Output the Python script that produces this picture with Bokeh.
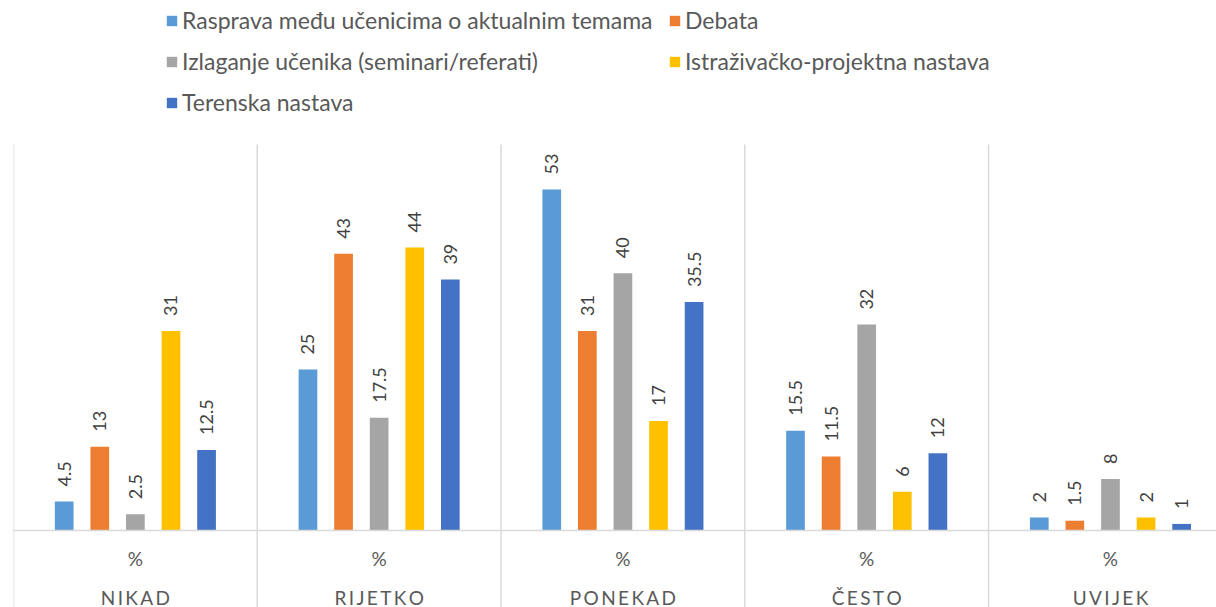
import math
from bokeh.plotting import figure
from bokeh.models import (Range1d, FixedTicker, LinearAxis, Legend, LegendItem,
                          ColumnDataSource)
from bokeh.transform import dodge
from bokeh.core.properties import value
from bokeh.embed import file_html
from bokeh.resources import INLINE

# ---- data ----
categories = ["NIKAD", "RIJETKO", "PONEKAD", "ČESTO", "UVIJEK"]
sub_label = "%"
series_names = [
    "Rasprava među učenicima o aktualnim temama",
    "Debata",
    "Izlaganje učenika (seminari/referati)",
    "Istraživačko-projektna nastava",
    "Terenska nastava",
]
rasprava = [4.5, 25, 53, 15.5, 2]
debata = [13, 43, 31, 11.5, 1.5]
izlaganje = [2.5, 17.5, 40, 32, 8]
istrazivacko = [31, 44, 17, 6, 2]
terenska = [12.5, 39, 35.5, 12, 1]
colors = ["#5B9BD5", "#ED7D31", "#A5A5A5", "#FFC000", "#4472C4"]

y_min, y_max = -12, 60          # value axis extent (plot area incl. category band)
series_values = [rasprava, debata, izlaganje, istrazivacko, terenska]
idx = list(range(len(categories)))
bounds = [i - 0.5 for i in range(len(categories) + 1)]

FONT = "Lato"
GRID = "#D9D9D9"

p = figure(width=1216, height=607,
           x_range=Range1d(-0.5, 4.435), y_range=Range1d(y_min, 82.4),
           output_backend="svg", toolbar_location=None,
           x_axis_location=None, y_axis_location=None,
           min_border_left=13, min_border_right=0, min_border_top=0,
           min_border_bottom=0)
p.outline_line_color = None
for g in p.grid:
    g.visible = False

# category separators
sep = ColumnDataSource({"b": bounds})
p.segment(x0="b", y0=y_min, x1="b", y1=y_max, source=sep,
          line_color=GRID, line_width=1.5)

data = {"idx": idx}
for k, vals in enumerate(series_values):
    data[f"s{k}"] = vals
    data[f"l{k}"] = [f"{v:g}" for v in vals]
src = ColumnDataSource(data)

step = 0.146
bar_w = 0.0767
items = []
for k, (name, col) in enumerate(zip(series_names, colors)):
    off = (k - 2) * step
    r = p.vbar(x=dodge("idx", off, range=p.x_range), top=f"s{k}", bottom=0,
               width=bar_w, source=src, fill_color=col, line_color=None)
    p.text(x=dodge("idx", off, range=p.x_range), y=f"s{k}", text=f"l{k}",
           source=src, angle=math.pi / 2, text_align="left",
           text_baseline="middle", y_offset=-15,
           text_font=value(FONT), text_font_size="18px", text_color="#404040")
    items.append(LegendItem(label=name, renderers=[r]))

legend = Legend(items=items, location=(152, 491), orientation="horizontal",
                ncols=2, padding=0, margin=0, border_line_color=None,
                background_fill_alpha=0, label_text_font=FONT,
                label_text_font_size="23px", label_text_color="#595959",
                glyph_width=13, glyph_height=13, label_standoff=4,
                spacing=13, label_height=28, label_width=473)
p.add_layout(legend, "center")

ax1 = LinearAxis(fixed_location=0, ticker=FixedTicker(ticks=idx),
                 major_label_overrides={i: sub_label for i in idx},
                 axis_line_color=GRID, axis_line_width=1.5,
                 major_tick_line_color=None, major_tick_out=0, major_tick_in=0,
                 minor_tick_line_color=None,
                 major_label_standoff=17, major_label_text_font=FONT,
                 major_label_text_font_size="19px",
                 major_label_text_color="#595959")
p.add_layout(ax1, "below")

ax2 = LinearAxis(fixed_location=0, ticker=FixedTicker(ticks=idx),
                 major_label_overrides={i: "\u2009".join(c) for i, c in zip(idx, categories)},
                 axis_line_color=None, major_tick_line_color=None,
                 minor_tick_line_color=None, major_tick_out=0, major_tick_in=0,
                 major_label_standoff=56, major_label_text_font=FONT,
                 major_label_text_font_size="19px",
                 major_label_text_color="#595959")
p.add_layout(ax2, "below")

open("out.html", "w").write(file_html(p, INLINE))
